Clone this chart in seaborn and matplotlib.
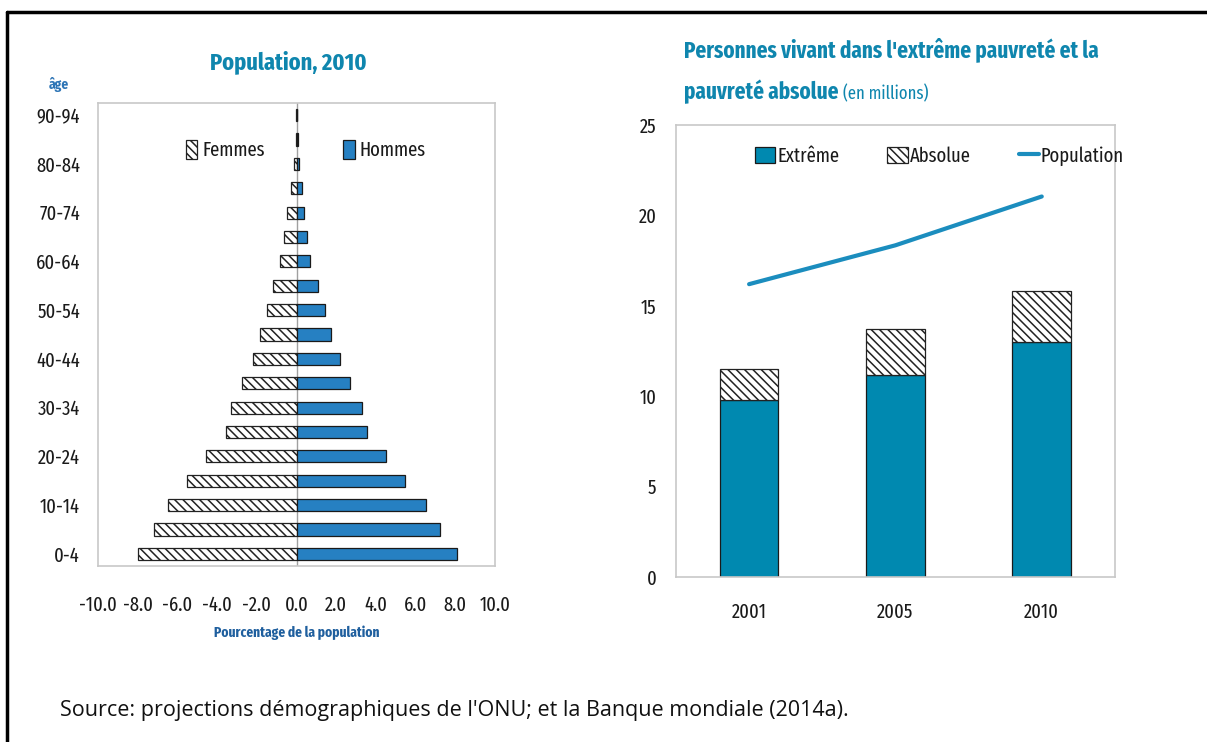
import numpy as np
import pandas as pd
import matplotlib
matplotlib.use("Agg")
import matplotlib.pyplot as plt
import seaborn as sns

# ---- données ----
ages = ["0-4", "5-9", "10-14", "15-19", "20-24", "25-29", "30-34", "35-39",
        "40-44", "45-49", "50-54", "55-59", "60-64", "65-69", "70-74",
        "75-79", "80-84", "85-89", "90-94"]
hommes = [8.1, 7.2, 6.5, 5.45, 4.5, 3.55, 3.3, 2.7, 2.2, 1.75, 1.42,
          1.1, 0.7, 0.52, 0.38, 0.25, 0.12, 0.05, 0.02]
femmes = [-7.98, -7.2, -6.5, -5.5, -4.55, -3.55, -3.28, -2.75, -2.2, -1.83,
          -1.5, -1.2, -0.85, -0.62, -0.47, -0.3, -0.15, -0.05, -0.02]

annees = ["2001", "2005", "2010"]
extreme = [9.8, 11.2, 13.0]
absolue = [1.7, 2.5, 2.8]
population = [16.2, 18.35, 21.05]

TEAL = "#0F86AE"
BLUE = "#2680C2"
EXT = "#0089B0"
GRID = "#C8C8C8"
NARROW = ["Fira Sans Extra Condensed", "DejaVu Sans"]

sns.set_style("white")
plt.rcParams["font.family"] = NARROW
plt.rcParams["hatch.linewidth"] = 1.1
plt.rcParams["text.color"] = "#1a1a1a"
plt.rcParams["xtick.labelcolor"] = "#1a1a1a"
plt.rcParams["ytick.labelcolor"] = "#1a1a1a"

fig = plt.figure(figsize=(12.07, 7.42), dpi=100)

# ---- pyramide des âges ----
ax1 = fig.add_axes([0.0812, 0.2372, 0.329, 0.624])
df_pyr = pd.DataFrame({"age": ages, "hommes": hommes, "femmes": femmes})
order = ages[::-1]
sns.barplot(data=df_pyr, x="femmes", y="age", order=order, orient="h",
            color="white", edgecolor="#222222", linewidth=0.9, saturation=1,
            hatch="\\\\\\\\", width=0.5, label="Femmes", ax=ax1)
sns.barplot(data=df_pyr, x="hommes", y="age", order=order, orient="h",
            color=BLUE, edgecolor="#1a1a1a", linewidth=0.9, saturation=1,
            width=0.5, label="Hommes", ax=ax1)
ax1.set_xlim(-10, 10)
ax1.set_ylim(len(ages) - 0.5, -0.5)
ax1.axvline(0, color="#A0A0A0", lw=1, zorder=0)
ax1.set_xticks(np.arange(-10, 10.1, 2))
ax1.set_xticklabels([f"{v:.1f}" for v in np.arange(-10, 10.1, 2)])
ax1.set_yticks(range(0, len(ages), 2))
ax1.set_yticklabels(order[::2])
ax1.tick_params(axis="x", direction="in", length=4, color=GRID, labelsize=14.5, pad=21)
ax1.tick_params(axis="y", length=0, labelsize=14.5, pad=13)
ax1.set_xlabel("Pourcentage de la population", fontsize=10.5, fontweight="bold",
               color="#1F5F9E", labelpad=8)
ax1.set_ylabel("")
for s in ax1.spines.values():
    s.set_color(GRID)
    s.set_linewidth(1.2)
ax1.legend(loc="center left", bbox_to_anchor=(0.197, 0.898), ncol=2, frameon=False,
           fontsize=14.5, handlelength=0.55, handleheight=1.1, handletextpad=0.25,
           columnspacing=3.9, borderpad=0)
fig.text(0.2386, 0.916, "Population, 2010", ha="center", va="center",
         fontsize=17.5, fontweight="bold", color=TEAL)
fig.text(0.0485, 0.886, "âge", ha="center", va="center", fontsize=10.5,
         fontweight="bold", color="#2E75B6")

# ---- pauvreté ----
ax2 = fig.add_axes([0.560, 0.2224, 0.3637, 0.609])
df_pov = pd.DataFrame({"annee": annees, "extreme": extreme, "absolue": absolue,
                       "population": population})
sns.barplot(data=df_pov, x="annee", y="extreme", color=EXT, edgecolor="#1a1a1a",
            linewidth=0.9, saturation=1, width=0.4, label="Extrême", ax=ax2)
sns.barplot(data=df_pov, x="annee", y="absolue", color="white", edgecolor="#222222",
            linewidth=0.9, saturation=1, hatch="\\\\\\\\", width=0.4,
            bottom=df_pov["extreme"].values, label="Absolue", ax=ax2)
sns.lineplot(x=np.arange(len(annees)), y=df_pov["population"], color="#1B8DBE",
             lw=3, label="Population", ax=ax2)
ax2.set_ylim(0, 25)
ax2.set_xlim(-0.5, len(annees) - 0.5)
ax2.set_yticks(range(0, 26, 5))
ax2.set_xticks(range(len(annees)))
ax2.set_xticklabels(annees)
ax2.set_xticks([0.5, 1.5], minor=True)
ax2.tick_params(axis="x", which="major", length=0, labelsize=14.5, pad=18)
ax2.tick_params(axis="x", which="minor", direction="in", length=8, color=GRID)
ax2.tick_params(axis="y", direction="out", length=4, color=GRID, labelsize=14.5, pad=10)
ax2.set_xlabel("")
ax2.set_ylabel("")
for s in ax2.spines.values():
    s.set_color(GRID)
    s.set_linewidth(1.2)
handles, labels = ax2.get_legend_handles_labels()
hmap = dict(zip(labels, handles))
leg_order = ["Extrême", "Absolue", "Population"]
ax2.legend([hmap[k] for k in leg_order], leg_order, loc="center left",
           bbox_to_anchor=(0.157, 0.931), ncol=3, frameon=False,
           fontsize=14.5, handlelength=1.0, handleheight=0.9, handletextpad=0.1,
           columnspacing=2.4, borderpad=0)
fig.text(0.5665, 0.933, "Personnes vivant dans l'extrême pauvreté et la",
         ha="left", va="center", fontsize=16.5, fontweight="bold", color=TEAL)
t = fig.text(0.5665, 0.876, "pauvreté absolue", ha="left", va="center",
             fontsize=16.5, fontweight="bold", color=TEAL)
fig.canvas.draw()
bb = t.get_window_extent().transformed(fig.transFigure.inverted())
fig.text(bb.x1 + 0.004, 0.873, "(en millions)", ha="left", va="center",
         fontsize=13, color=TEAL)

# ---- source et cadre ----
fig.text(0.0497, 0.043, "Source: projections démographiques de l'ONU; et la Banque mondiale (2014a).",
         ha="left", va="center", fontsize=15.5, color="#111111",
         family=["Open Sans", "DejaVu Sans"])
fig.add_artist(plt.Line2D([0.0058, 0.0058], [0, 0.9838], color="black", lw=2.5,
                          transform=fig.transFigure))
fig.add_artist(plt.Line2D([0.0058, 1], [0.9838, 0.9838], color="black", lw=2.5,
                          transform=fig.transFigure))

fig.savefig("out.png", dpi=100)
